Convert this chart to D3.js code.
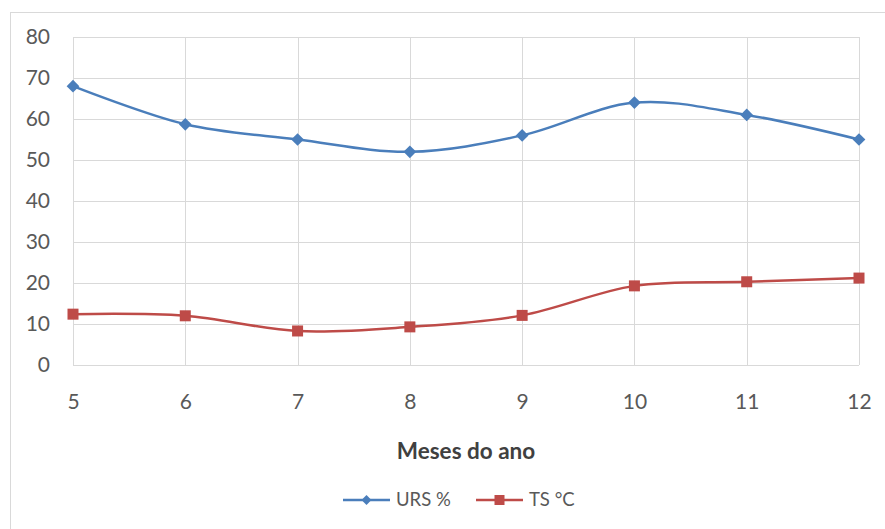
<!DOCTYPE html>
<html>
<head>
<meta charset="utf-8">
<script src="https://cdn.jsdelivr.net/npm/d3@7"></script>
<style>
  html, body { margin: 0; padding: 0; background: #fff; }
  svg { display: block; font-family: Lato, "Open Sans", "Liberation Sans", sans-serif; }
</style>
</head>
<body>
<svg id="chart" width="885" height="529"></svg>
<script>
// Months of the year and the two monitored series
const months = [5, 6, 7, 8, 9, 10, 11, 12];
const urs = [68, 58.7, 55, 52, 56, 64, 61, 55];          // relative humidity, %
const ts = [12.4, 12, 8.3, 9.3, 12.1, 19.3, 20.3, 21.2];   // temperature, °C
const yTicks = [0, 10, 20, 30, 40, 50, 60, 70, 80];
const xTitle = "Meses do ano";
const seriesNames = ["URS %", "TS °C"];

const svg = d3.select("#chart");
const W = 885, H = 529;
const m = { left: 73, right: 26, top: 37, bottom: 164 };

// outer chart frame
svg.append("rect")
  .attr("x", 10.5).attr("y", 12.5)
  .attr("width", 880).attr("height", 540)
  .attr("fill", "#fff").attr("stroke", "#d9d9d9").attr("stroke-width", 1);

const x = d3.scaleLinear().domain([5, 12]).range([m.left, W - m.right]);
const y = d3.scaleLinear().domain([0, 80]).range([H - m.bottom, m.top]);

// gridlines
const grid = svg.append("g");
grid.selectAll(".hg").data(yTicks).join("line")
  .attr("x1", x(5)).attr("x2", x(12))
  .attr("y1", d => Math.round(y(d)) + 0.5).attr("y2", d => Math.round(y(d)) + 0.5)
  .attr("stroke", "#d9d9d9").attr("stroke-width", 1);
grid.selectAll(".vg").data(months).join("line")
  .attr("y1", y(0)).attr("y2", y(80))
  .attr("x1", d => Math.round(x(d)) + 0.5).attr("x2", d => Math.round(x(d)) + 0.5)
  .attr("stroke", "#d9d9d9").attr("stroke-width", 1);

// axes
const yAxis = svg.append("g")
  .attr("transform", `translate(${m.left - 23},0)`)
  .call(d3.axisLeft(y).tickValues(yTicks).tickSize(0).tickPadding(0));
yAxis.select(".domain").remove();
yAxis.selectAll("text").attr("font-size", 21).attr("fill", "#595959")
  .attr("font-family", "Lato, 'Open Sans', sans-serif");

const xAxis = svg.append("g")
  .attr("transform", `translate(0,${y(0) + 29})`)
  .call(d3.axisBottom(x).tickValues(months).tickFormat(d3.format("d")).tickSize(0).tickPadding(0));
xAxis.select(".domain").remove();
xAxis.selectAll("text").attr("font-size", 21).attr("fill", "#595959")
  .attr("font-family", "Lato, 'Open Sans', sans-serif");

// axis title
svg.append("text")
  .attr("x", 466).attr("y", 459)
  .attr("text-anchor", "middle")
  .attr("font-size", 22.5).attr("font-weight", "bold").attr("fill", "#404040")
  .text(xTitle);

// series lines (smoothed)
const line = d3.line()
  .x((d, i) => x(months[i]))
  .y(d => y(d))
  .curve(d3.curveCatmullRom.alpha(0));

const blue = "#4a7ebb", red = "#be4b48";

svg.append("path").datum(urs)
  .attr("d", line).attr("fill", "none")
  .attr("stroke", blue).attr("stroke-width", 2.5);
svg.append("path").datum(ts)
  .attr("d", line).attr("fill", "none")
  .attr("stroke", red).attr("stroke-width", 2.5);

// markers
svg.append("g").selectAll("rect").data(urs).join("rect")
  .attr("x", -4.5).attr("y", -4.5).attr("width", 9).attr("height", 9)
  .attr("transform", (d, i) => `translate(${x(months[i])},${y(d)}) rotate(45)`)
  .attr("fill", blue);
svg.append("g").selectAll("rect").data(ts).join("rect")
  .attr("x", (d, i) => x(months[i]) - 5.5).attr("y", d => y(d) - 5.5)
  .attr("width", 11).attr("height", 11)
  .attr("fill", red);

// legend
const lg = svg.append("g").attr("transform", "translate(0,500)");
const items = [
  { name: seriesNames[0], color: blue, x0: 343, shape: "diamond" },
  { name: seriesNames[1], color: red, x0: 476, shape: "square" }
];
items.forEach(it => {
  lg.append("line").attr("x1", it.x0).attr("x2", it.x0 + 47)
    .attr("y1", 0).attr("y2", 0).attr("stroke", it.color).attr("stroke-width", 2.5);
  if (it.shape === "diamond") {
    lg.append("rect").attr("x", -3.5).attr("y", -3.5).attr("width", 7).attr("height", 7)
      .attr("transform", `translate(${it.x0 + 23.5},0) rotate(45)`).attr("fill", it.color);
  } else {
    lg.append("rect").attr("x", it.x0 + 23.5 - 5).attr("y", -5)
      .attr("width", 10).attr("height", 10).attr("fill", it.color);
  }
  lg.append("text").attr("x", it.x0 + 53).attr("y", 0).attr("dy", "0.35em")
    .attr("font-size", 18.5).attr("fill", "#595959").text(it.name);
});
</script>
</body>
</html>
